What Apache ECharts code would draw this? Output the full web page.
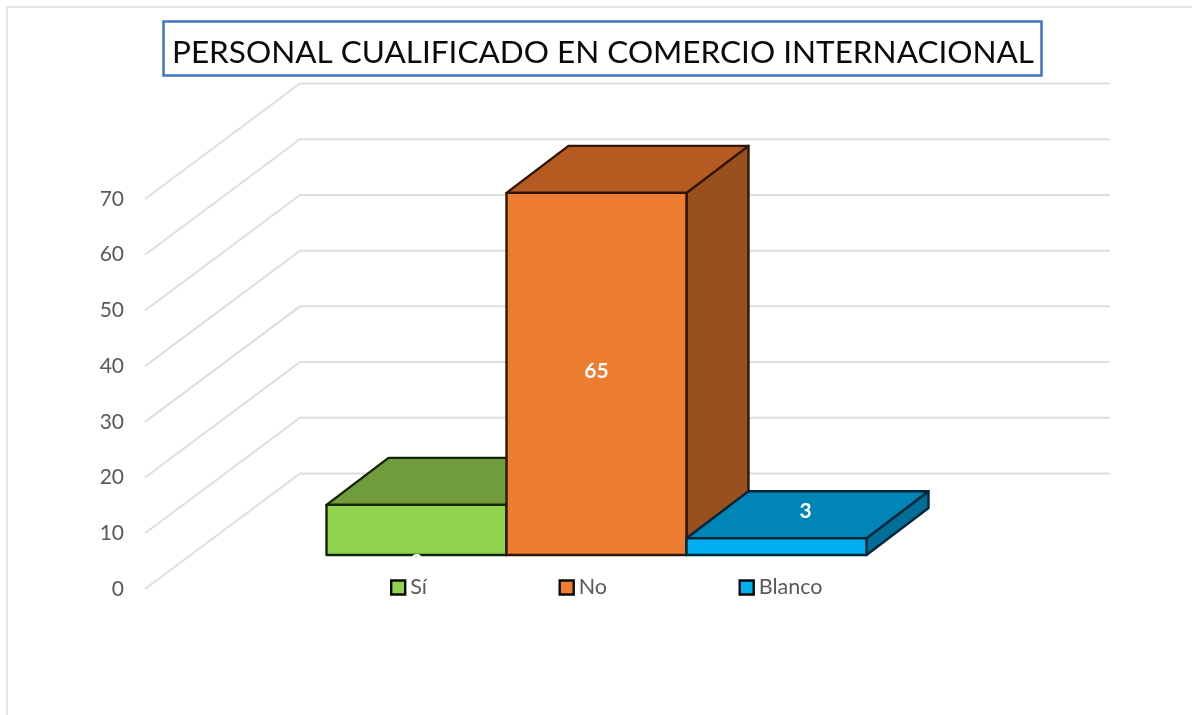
<!DOCTYPE html>
<html>
<head>
<meta charset="utf-8">
<style>html,body{margin:0;padding:0;background:#fff}#c{width:1192px;height:715px}</style>
<script src="https://cdn.jsdelivr.net/npm/echarts@6/dist/echarts.min.js"></script>
</head>
<body>
<div id="c"></div>
<script>
const titleText = 'PERSONAL CUALIFICADO EN COMERCIO INTERNACIONAL';
const categories = ['Sí', 'No', 'Blanco'];
const values = [9, 65, 3];
const tickValues = [0, 10, 20, 30, 40, 50, 60, 70];

const frontColors = ['#91D34F', '#ED7D31', '#00B0F0'];
const topColors = ['#719C3B', '#B55A21', '#0085B6'];
const sideColors = ['#5F8530', '#9A4F1E', '#006F98'];
const edgeColors = ['#12240A', '#2E1606', '#00263A'];
const labelShift = [[0, 35], [0, 0], [29, -32]]; // label nudge from the front-face centre
const legendLefts = [390, 558.5, 738.5];

const wallInset = 181.5;         // plot left edge to wall front edge
const wallDepth = [155, -115.5]; // full floor depth
const barLift = 34;              // bar front face above the wall's front plane
const barDepth = [62, -47];
const wallWidth = 810;

const chart = echarts.init(document.getElementById('c'), null, {renderer: 'canvas'});

function renderGrid(params, api) {
  const cs = params.coordSys;
  const p = api.coord([0, api.value(0)]);
  const x0 = cs.x - wallInset;
  const cx = x0 + wallDepth[0], cy = p[1] + wallDepth[1];
  return {
    type: 'polyline',
    shape: {points: [[x0, p[1]], [cx, cy], [cx + wallWidth, cy]]},
    style: {stroke: '#DEDEDE', lineWidth: 2, fill: null}
  };
}

function renderBar(i) {
  return function (params, api) {
    const c = api.coord([api.value(0), api.value(1)]);
    const base = api.coord([api.value(0), 0]);
    const w = api.size([1, 0])[0];
    const l = c[0] - w / 2, r = c[0] + w / 2;
    const t = c[1] - barLift, b = base[1] - barLift;
    const dx = barDepth[0], dy = barDepth[1];
    const line = {stroke: edgeColors[i], lineWidth: 2.4, lineJoin: 'round'};
    const ls = labelShift[i];
    return {
      type: 'group',
      children: [
        {type: 'polygon', shape: {points: [[r, t], [r + dx, t + dy], [r + dx, b + dy], [r, b]]},
          style: Object.assign({fill: sideColors[i]}, line)},
        {type: 'polygon', shape: {points: [[l, t], [l + dx, t + dy], [r + dx, t + dy], [r, t]]},
          style: Object.assign({fill: topColors[i]}, line)},
        {type: 'rect', shape: {x: l, y: t, width: r - l, height: b - t},
          style: Object.assign({fill: frontColors[i]}, line)},
        {type: 'text', z2: 10, style: {
          text: String(api.value(1)),
          x: c[0] + ls[0], y: (t + b) / 2 + ls[1] - 3,
          fill: '#FFFFFF', font: 'bold 21px Lato',
          align: 'center', verticalAlign: 'middle'
        }}
      ]
    };
  };
}

const barSeries = categories.map((name, i) => ({
  type: 'custom',
  name: name,
  clip: false,
  silent: true,
  itemStyle: {color: frontColors[i]},
  encode: {x: 0, y: 1},
  data: [[i, values[i]]],
  renderItem: renderBar(i)
}));

const legends = categories.map((name, i) => ({
  data: [{name: name, icon: 'rect'}],
  left: legendLefts[i],
  top: 576.5,
  padding: 0,
  itemWidth: 14,
  itemHeight: 14,
  itemGap: 0,
  selectedMode: false,
  itemStyle: {borderColor: '#0A0A0A', borderWidth: 2.4},
  textStyle: {color: '#595959', fontSize: 21.5, fontFamily: 'Lato'}
}));

chart.setOption({
  animation: false,
  backgroundColor: '#FFFFFF',
  title: {
    text: titleText,
    left: 603,
    top: 37,
    padding: 0,
    textAlign: 'center',
    textStyle: {color: '#0A0A0A', fontSize: 31.5, fontWeight: 'normal', fontFamily: 'Lato'}
  },
  legend: legends,
  grid: {left: 326.5, width: 540, top: 199, bottom: 126, containLabel: false},
  xAxis: {type: 'category', data: categories, show: false},
  yAxis: {
    type: 'value', min: 0, max: 70, interval: 10,
    offset: wallInset,
    axisLine: {show: false}, axisTick: {show: false}, splitLine: {show: false},
    axisLabel: {color: '#595959', fontSize: 21, fontFamily: 'Lato', margin: 21, padding: [3, 0, 0, 0]}
  },
  graphic: [
    {type: 'polyline', silent: true, z: 100,
      shape: {points: [[7, 715], [7, 7], [1192, 7]]},
      style: {stroke: '#DDDDDD', lineWidth: 1.5, fill: null}},
    {type: 'rect', silent: true, z: 100,
      shape: {x: 163.5, y: 21.5, width: 878, height: 54},
      style: {stroke: '#4472C4', lineWidth: 2.5, fill: null}}
  ],
  series: [{
    type: 'custom',
    name: 'grid',
    silent: true,
    clip: false,
    encode: {y: 0},
    data: tickValues.map(v => [v]),
    renderItem: renderGrid
  }].concat(barSeries)
});
</script>
</body>
</html>
